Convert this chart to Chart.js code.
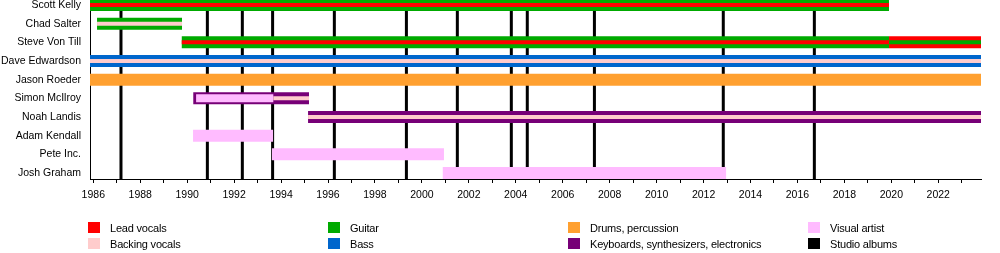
<!DOCTYPE html>
<html lang="en">
<head>
    <meta charset="UTF-8">
    <title>Band members timeline</title>
    <script src="https://cdn.jsdelivr.net/npm/chart.js"></script>
    <style>
        body { margin: 0; background: #fff; font-family: 'Liberation Sans', Arial, sans-serif; }
        .wrap { position: relative; width: 1000px; height: 253px; }
        .legend-item { position: absolute; font-size: 11px; color: #000; line-height: 12px; white-space: nowrap; letter-spacing: -0.2px; }
        .legend-item span { position: absolute; left: 0; top: 0; width: 12px; height: 11px; }
        .legend-item em { position: absolute; left: 22px; top: 0; font-style: normal; }
    </style>
</head>
<body>
<div class="wrap">
    <canvas id="timeline"></canvas>
    <div id="legend"></div>
</div>

<script>
    // rows, top to bottom
    const members = ['Scott Kelly', 'Chad Salter', 'Steve Von Till', 'Dave Edwardson', 'Jason Roeder',
        'Simon McIlroy', 'Noah Landis', 'Adam Kendall', 'Pete Inc.', 'Josh Graham'];

    const startYear = 1985.86;
    const endYear = 2023.82;
    const tickYears = [1986, 1987, 1988, 1989, 1990, 1991, 1992, 1993, 1994, 1995, 1996, 1997, 1998, 1999,
        2000, 2001, 2002, 2003, 2004, 2005, 2006, 2007, 2008, 2009, 2010, 2011, 2012, 2013, 2014, 2015,
        2016, 2017, 2018, 2019, 2020, 2021, 2022, 2023];

    // studio albums
    const albums = [1987.18, 1990.86, 1992.35, 1993.64, 1996.27, 1999.34, 2001.51, 2003.81, 2004.49,
        2007.35, 2012.84, 2016.72];

    // [row, from, to]  - full width bars
    const guitarMain = [[0, startYear, 2019.9], [1, 1986.16, 1989.78], [2, 1989.77, 2019.9]];
    const leadVocalsMain = [[2, 2019.9, endYear]];
    const bassMain = [[3, startYear, endYear]];
    const drumsMain = [[4, startYear, endYear]];
    const keysMain = [[5, 1990.26, 1995.19], [6, 1995.15, endYear]];
    const visualMain = [[7, 1990.25, 1993.66], [8, 1993.61, 2000.94], [9, 2000.89, 2012.96]];
    // wide inner band
    const visualInner = [[5, 1990.38, 1993.67]];
    // thin centre stripes
    const leadVocalsStripe = [[0, startYear, 2019.9], [2, 1989.77, 2019.9]];
    const guitarStripe = [[2, 2019.9, endYear]];
    const backingStripe = [[1, 1986.16, 1989.78], [3, startYear, endYear], [5, 1993.67, 1995.19], [6, 1995.15, endYear]];

    const legendLabels = ['Lead vocals', 'Backing vocals', 'Guitar', 'Bass', 'Drums, percussion',
        'Keyboards, synthesizers, electronics', 'Visual artist', 'Studio albums'];

    const C = {
        lead: '#ff0000',
        backing: '#ffcccc',
        guitar: '#00aa00',
        bass: '#0066cc',
        drums: '#ffa030',
        keys: '#770077',
        visual: '#ffbbff',
        album: '#000000'
    };
    const legendColors = [C.lead, C.backing, C.guitar, C.bass, C.drums, C.keys, C.visual, C.album];

    const yMin = -0.27, yMax = 9.32;

    function segs(list, color, width, order) {
        return list.map(([row, from, to]) => ({
            data: [{x: from, y: row}, {x: to, y: row}],
            borderColor: color,
            borderWidth: width,
            borderCapStyle: 'butt',
            pointRadius: 0,
            fill: false,
            order: order
        }));
    }

    const albumSets = albums.map(a => ({
        data: [{x: a, y: yMin}, {x: a, y: yMax}],
        borderColor: C.album,
        borderWidth: 3,
        borderCapStyle: 'butt',
        pointRadius: 0,
        fill: false,
        clip: 0,
        order: 40
    }));

    const datasets = [].concat(
        albumSets,
        segs(guitarMain, C.guitar, 12, 30),
        segs(leadVocalsMain, C.lead, 12, 30),
        segs(bassMain, C.bass, 12, 30),
        segs(drumsMain, C.drums, 12, 30),
        segs(keysMain, C.keys, 12, 30),
        segs(visualMain, C.visual, 12, 30),
        segs(visualInner, C.visual, 8, 20),
        segs(leadVocalsStripe, C.lead, 4, 10),
        segs(guitarStripe, C.guitar, 4, 10),
        segs(backingStripe, C.backing, 4, 10)
    );

    const font = {family: "'Liberation Sans', Arial, sans-serif", size: 10.5};

    new Chart(document.getElementById('timeline'), {
        type: 'line',
        data: {datasets: datasets},
        options: {
            responsive: true,
            maintainAspectRatio: false,
            animation: false,
            events: [],
            layout: {padding: {top: 0, right: 19, bottom: 0, left: 0}},
            plugins: {legend: {display: false}, tooltip: {enabled: false}},
            scales: {
                x: {
                    type: 'linear',
                    min: startYear,
                    max: endYear,
                    afterBuildTicks: axis => { axis.ticks = tickYears.map(v => ({value: v})); },
                    afterFit: axis => {
                        axis.height = 74;
                        axis.paddingLeft = 0;
                        axis.paddingRight = 0;
                    },
                    ticks: {
                        autoSkip: false,
                        maxRotation: 0,
                        padding: 6,
                        color: '#000',
                        font: font,
                        callback: v => (v % 2 === 0 ? String(v) : '')
                    },
                    grid: {drawOnChartArea: false, drawTicks: true, tickLength: 4, color: '#000'},
                    border: {display: true, color: '#000', width: 1}
                },
                y: {
                    type: 'linear',
                    reverse: true,
                    min: yMin,
                    max: yMax,
                    afterBuildTicks: axis => { axis.ticks = members.map((m, i) => ({value: i})); },
                    afterFit: axis => {
                        axis.width = 90;
                        axis.paddingTop = 0;
                        axis.paddingBottom = 0;
                    },
                    ticks: {
                        autoSkip: false,
                        padding: 9,
                        color: '#000',
                        font: font,
                        callback: v => members[v]
                    },
                    grid: {display: false, drawTicks: false},
                    border: {display: true, color: '#000', width: 1}
                }
            }
        }
    });

    // legend below the plot, 4 columns x 2 rows
    const legend = document.getElementById('legend');
    legendLabels.forEach((label, i) => {
        const col = Math.floor(i / 2), row = i % 2;
        const item = document.createElement('div');
        item.className = 'legend-item';
        item.style.left = (88 + col * 240) + 'px';
        item.style.top = (222 + row * 16) + 'px';
        item.innerHTML = '<span style="background:' + legendColors[i] + '"></span><em>' + label + '</em>';
        legend.appendChild(item);
    });
</script>
</body>
</html>
